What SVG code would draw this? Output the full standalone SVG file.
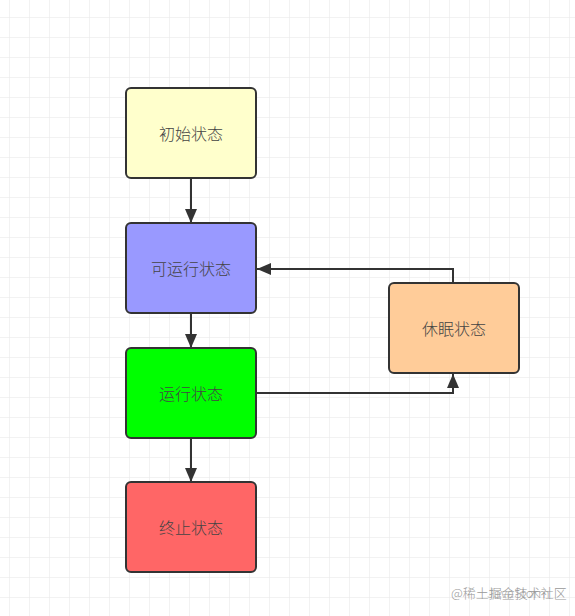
<svg xmlns="http://www.w3.org/2000/svg" width="575" height="616" viewBox="0 0 575 616">
<defs>
<pattern id="grid" x="9" y="17" width="20" height="20" patternUnits="userSpaceOnUse">
<path d="M0 0H20M0 0V20" fill="none" stroke="#e6e6e6" stroke-width="1"/>
</pattern>
<marker id="arr" viewBox="0 0 14 12" refX="14" refY="6" markerWidth="14" markerHeight="12" markerUnits="userSpaceOnUse" orient="auto">
<path d="M0 0L14 6L0 12Z" fill="#333"/>
</marker>
<style>
.n{stroke:#333;stroke-width:2}
.t{font-family:"Noto Sans CJK SC","Liberation Sans",sans-serif;font-size:16px;font-weight:300;fill:#444;text-anchor:middle;dominant-baseline:central}
.c{fill:none;stroke:#333;stroke-width:2;marker-end:url(#arr)}
.w{font-family:"Noto Sans CJK SC","Liberation Sans",sans-serif;font-size:13px;font-weight:300;fill:#999}
</style>
</defs>
<rect width="575" height="616" fill="#fff"/>
<rect width="575" height="616" fill="url(#grid)"/>
<g id="connectors">
<path class="c" d="M191 179V223"/>
<path class="c" d="M191 314V348"/>
<path class="c" d="M191 439V482"/>
<path class="c" d="M257 393H453V374"/>
<path class="c" d="M453 283V269H257"/>
</g>
<g id="init"><rect class="n" x="126" y="88" width="130" height="90" rx="5" fill="#FFFFCC"/><text class="t" x="191" y="133">初始状态</text></g>
<g id="runnable"><rect class="n" x="126" y="223" width="130" height="90" rx="5" fill="#9999FF"/><text class="t" x="191" y="268">可运行状态</text></g>
<g id="running"><rect class="n" x="126" y="348" width="130" height="90" rx="5" fill="#00FF00"/><text class="t" x="191" y="393">运行状态</text></g>
<g id="terminated"><rect class="n" x="126" y="482" width="130" height="90" rx="5" fill="#FF6666"/><text class="t" x="191" y="527">终止状态</text></g>
<g id="sleep"><rect class="n" x="389" y="283" width="130" height="90" rx="5" fill="#FFCC99"/><text class="t" x="454" y="328">休眠状态</text></g>
<g id="watermark"><text class="w" y="598"><tspan x="451">@稀土掘金技术社区</tspan><tspan x="487" fill-opacity="0.8">JavaStorm</tspan></text></g>
</svg>
